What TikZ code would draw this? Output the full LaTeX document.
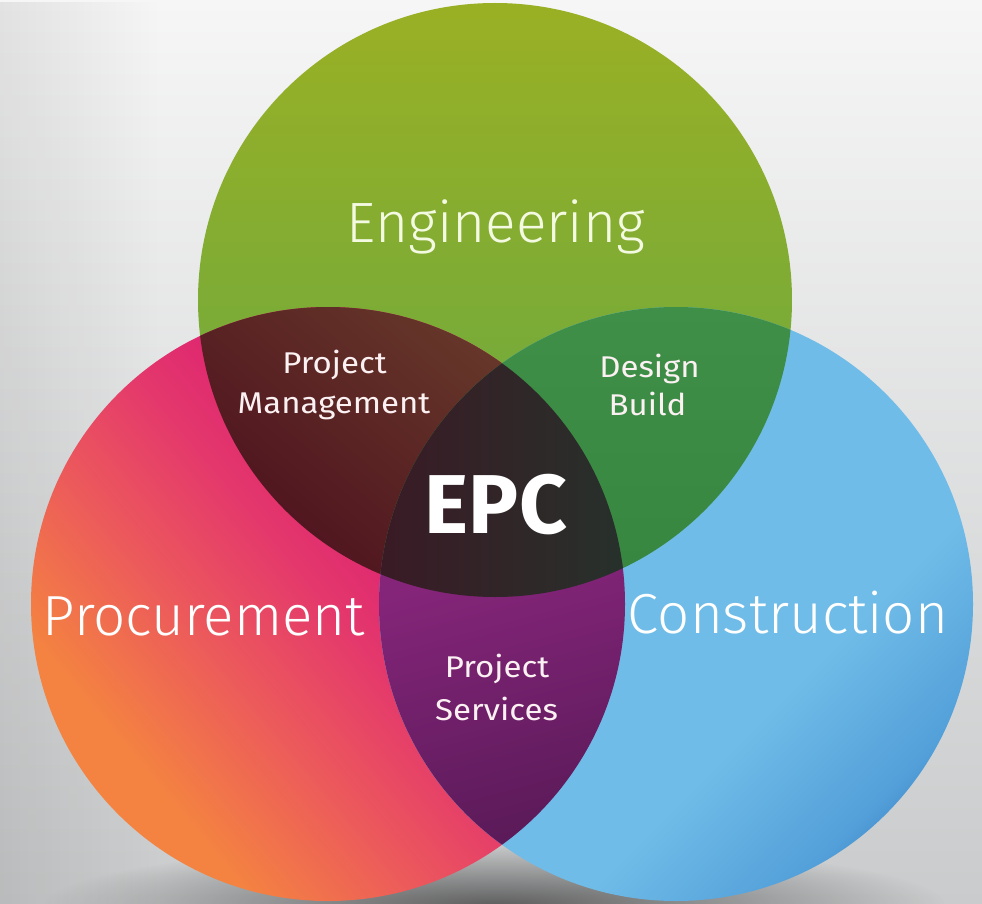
\documentclass[tikz,border=0pt]{standalone}
\usepackage{fontspec}
\setmainfont{Fira Sans}
\newfontfamily\lightfont{Fira Sans Light}
\usepackage{graphicx}
\usetikzlibrary{fadings}
\definecolor{bgtop}{HTML}{F6F6F6}
\definecolor{bgmid}{HTML}{EBECEC}
\definecolor{bgbot}{HTML}{C9CBCC}
\definecolor{engtop}{HTML}{9AB024}
\definecolor{engbot}{HTML}{62A846}
\definecolor{promag}{HTML}{DC1F72}
\definecolor{propink}{HTML}{E4386C}
\definecolor{prosal}{HTML}{EC5A5B}
\definecolor{proora}{HTML}{F48341}
\definecolor{blueA}{HTML}{6FBCE8}
\definecolor{blueB}{HTML}{539FD9}
\definecolor{blueC}{HTML}{266EB7}
\definecolor{epA}{HTML}{6A3D2B}
\definecolor{epB}{HTML}{4D101E}
\definecolor{ecA}{HTML}{3F8F48}
\definecolor{ecB}{HTML}{36863F}
\definecolor{pcA}{HTML}{85257A}
\definecolor{pcB}{HTML}{5A1A58}
\definecolor{epcA}{HTML}{3A1A25}
\definecolor{epcB}{HTML}{27312B}
\definecolor{engtxt}{HTML}{F4FAE2}
\definecolor{smtxt}{HTML}{FBF1F2}
\pgfdeclareverticalshading{redsh}{100bp}{color(0bp)=(proora); color(29bp)=(proora); color(40bp)=(prosal); color(50bp)=(propink); color(60bp)=(promag); color(100bp)=(promag)}
\pgfdeclareverticalshading{bluesh}{100bp}{color(0bp)=(blueC); color(18bp)=(blueC); color(26bp)=(blueB); color(38bp)=(blueA); color(100bp)=(blueA)}
\tikzfading[name=softshadow, inner color=transparent!0, outer color=transparent!100]
\tikzfading[name=leftedge, left color=transparent!0, right color=transparent!100]
\newcommand{\fitw}[2]{\resizebox{#1}{!}{#2}}
\tikzset{
  biglabel/.style={anchor=base, inner sep=0pt, text=white, font=\lightfont},
  smalllabel/.style={anchor=base, inner sep=0pt, text=smtxt, font=\fontsize{30}{36}\selectfont, xscale=1.1},
  epclabel/.style={anchor=base, inner sep=0pt, text=white, font=\bfseries}
}
\begin{document}
\begin{tikzpicture}[x=1pt,y=-1pt]
\useasboundingbox (0,0) rectangle (982,904);
% background
\shade[top color=bgtop, middle color=bgmid, bottom color=bgbot] (0,0) rectangle (982,904);
\fill[black, path fading=leftedge, fill opacity=0.08] (0,0) rectangle (160,904);
% shadow under the circles
\fill[black!70, path fading=softshadow, fill opacity=0.85] (495,905) ellipse [x radius=450pt, y radius=62pt];
\coordinate (E) at (495,300);
\coordinate (P) at (328,604);
\coordinate (C) at (676,604);
\def\R{297pt}
% circles
\shade[top color=engtop, bottom color=engbot] (E) circle [radius=\R];
\shade[shading=redsh, shading angle=-50] (P) circle [radius=\R];
\shade[shading=bluesh, shading angle=45] (C) circle [radius=\R];
% pairwise overlaps
\begin{scope}
  \clip (E) circle [radius=\R];
  \clip (P) circle [radius=\R];
  \shade[top color=epA, bottom color=epB, shading angle=-40] (198,305) rectangle (625,600);
\end{scope}
\begin{scope}
  \clip (E) circle [radius=\R];
  \clip (C) circle [radius=\R];
  \shade[top color=ecA, bottom color=ecB] (369,305) rectangle (795,600);
\end{scope}
\begin{scope}
  \clip (P) circle [radius=\R];
  \clip (C) circle [radius=\R];
  \shade[top color=pcA, bottom color=pcB, shading angle=15] (378,560) rectangle (626,846);
\end{scope}
% centre
\begin{scope}
  \clip (E) circle [radius=\R];
  \clip (P) circle [radius=\R];
  \clip (C) circle [radius=\R];
  \shade[left color=epcA, right color=epcB] (378,362) rectangle (626,600);
\end{scope}
% labels
\node[biglabel, text=engtxt] (eng) at (496,242) {\fitw{298pt}{Engineering}};
\node[biglabel] (pro) at (204,635) {\fitw{322pt}{Procurement}};
\node[biglabel] (con) at (788,633) {\fitw{320pt}{Construction}};
\node[epclabel] (epc) at (496,533) {\fitw{142pt}{EPC}};
\node[smalllabel] (pm1) at (334.5,373) {Project};
\node[smalllabel] (pm2) at (334,413) {Management};
\node[smalllabel] (db1) at (649.5,377) {Design};
\node[smalllabel] (db2) at (647.5,415) {Build};
\node[smalllabel] (ps1) at (497,677) {Project};
\node[smalllabel] (ps2) at (496.5,720) {Services};
\end{tikzpicture}
\end{document}
